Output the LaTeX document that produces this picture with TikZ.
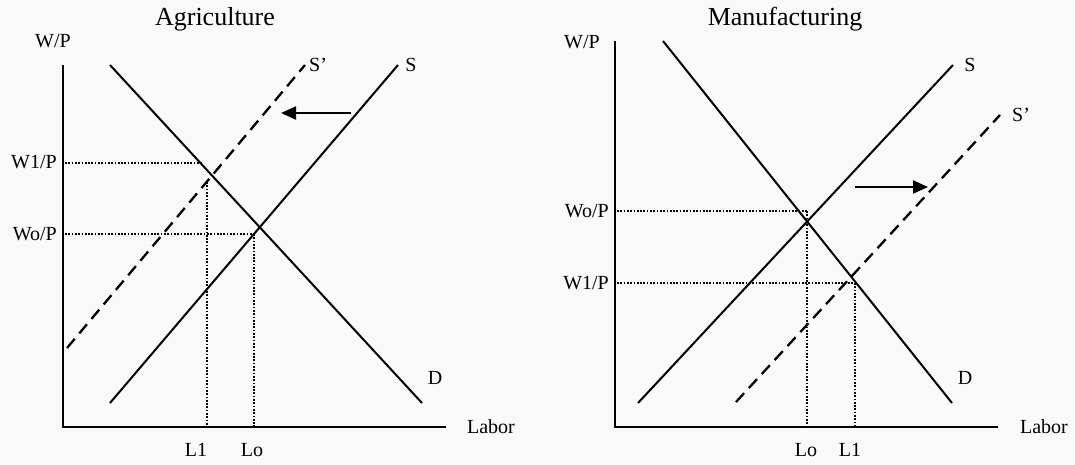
\documentclass[tikz,border=0pt]{standalone}
\usepackage{fontspec}
\setmainfont{Liberation Serif}
\usetikzlibrary{arrows.meta}
\tikzset{
  curve/.style={line width=2pt},
  shifted/.style={line width=2.3pt,dash pattern=on 12pt off 7pt},
  guide/.style={line width=1.8pt,dash pattern=on 1.7pt off 1.6pt},
  move/.style={line width=2pt,-{Triangle[length=15pt,width=13pt]}},
  lbl/.style={font=\fontsize{20}{22}\selectfont,inner sep=0pt},
  ttl/.style={font=\fontsize{26}{28}\selectfont,inner sep=0pt},
}
\begin{document}
\begin{tikzpicture}[x=1pt,y=-1pt,line cap=butt,line join=miter]
  \fill[gray!5] (0,0) rectangle (1075,465);
  \useasboundingbox (0,0) rectangle (1075,465);
  % Agriculture: supply shifts left
  \coordinate (O1) at (63,427); \coordinate (Y1) at (63,65); \coordinate (X1) at (446,427);
  \coordinate (D1a) at (110,65); \coordinate (D1b) at (422,403);
  \coordinate (S1a) at (110,403); \coordinate (S1b) at (398,65);
  \coordinate (T1a) at (67,348); \coordinate (T1b) at (305,65);
  \coordinate (W1a) at (65,163); \coordinate (W1b) at (203,163);
  \coordinate (L1a) at (207,182); \coordinate (L1b) at (207,427);
  \coordinate (W0a) at (65,234); \coordinate (W0b) at (254,234);
  \coordinate (L0a) at (254,234); \coordinate (L0b) at (254,427);
  \coordinate (A1a) at (351,113); \coordinate (A1b) at (281,113);
  \draw[line width=2.2pt] (Y1) -- (O1) -- (X1);
  \draw[guide] (W1a) -- (W1b); \draw[guide] (L1a) -- (L1b);
  \draw[guide] (W0a) -- (W0b); \draw[guide] (L0a) -- (L0b);
  \draw[curve] (D1a) -- (D1b);
  \draw[curve] (S1a) -- (S1b);
  \draw[shifted] (T1a) -- (T1b);
  \draw[move] (A1a) -- (A1b);
  \node[ttl] (agri) at (215,19) {Agriculture};
  \node[lbl] (wp1) at (53,41) {W/P};
  \node[lbl,anchor=east] (w1p1) at (57,162) {W1/P};
  \node[lbl,anchor=east] (wop1) at (57,234) {Wo/P};
  \node[lbl] (l1a) at (196,450) {L1};
  \node[lbl] (loa) at (252,450) {Lo};
  \node[lbl] (lab1) at (491,427) {Labor};
  \node[lbl,anchor=west] (sp1) at (309,65) {S’};
  \node[lbl] (s1) at (411,65) {S};
  \node[lbl] (d1) at (435,378) {D};
  % Manufacturing: supply shifts right
  \coordinate (O2) at (615,427); \coordinate (Y2) at (615,41); \coordinate (X2) at (998,427);
  \coordinate (D2a) at (663,41); \coordinate (D2b) at (952,403);
  \coordinate (S2a) at (638,403); \coordinate (S2b) at (953,65);
  \coordinate (T2a) at (736,402); \coordinate (T2b) at (1000,115);
  \coordinate (W2a) at (617,211); \coordinate (W2b) at (807,211);
  \coordinate (M0a) at (807,211); \coordinate (M0b) at (807,427);
  \coordinate (V2a) at (617,283); \coordinate (V2b) at (855,283);
  \coordinate (M1a) at (855,283); \coordinate (M1b) at (855,427);
  \coordinate (A2a) at (855,187); \coordinate (A2b) at (928,187);
  \draw[line width=2.2pt] (Y2) -- (O2) -- (X2);
  \draw[guide] (W2a) -- (W2b); \draw[guide] (M0a) -- (M0b);
  \draw[guide] (V2a) -- (V2b); \draw[guide] (M1a) -- (M1b);
  \draw[curve] (D2a) -- (D2b);
  \draw[curve] (S2a) -- (S2b);
  \draw[shifted] (T2a) -- (T2b);
  \draw[move] (A2a) -- (A2b);
  \node[ttl] (manu) at (785,19) {Manufacturing};
  \node[lbl] (wp2) at (582,42) {W/P};
  \node[lbl,anchor=east] (wop2) at (609,211) {Wo/P};
  \node[lbl,anchor=east] (w1p2) at (609,283) {W1/P};
  \node[lbl] (lob) at (806,450) {Lo};
  \node[lbl] (l1b) at (850,450) {L1};
  \node[lbl] (lab2) at (1044,427) {Labor};
  \node[lbl] (s2) at (970,65) {S};
  \node[lbl,anchor=west] (sp2) at (1012,115) {S’};
  \node[lbl] (d2) at (965,378) {D};
\end{tikzpicture}
\end{document}
